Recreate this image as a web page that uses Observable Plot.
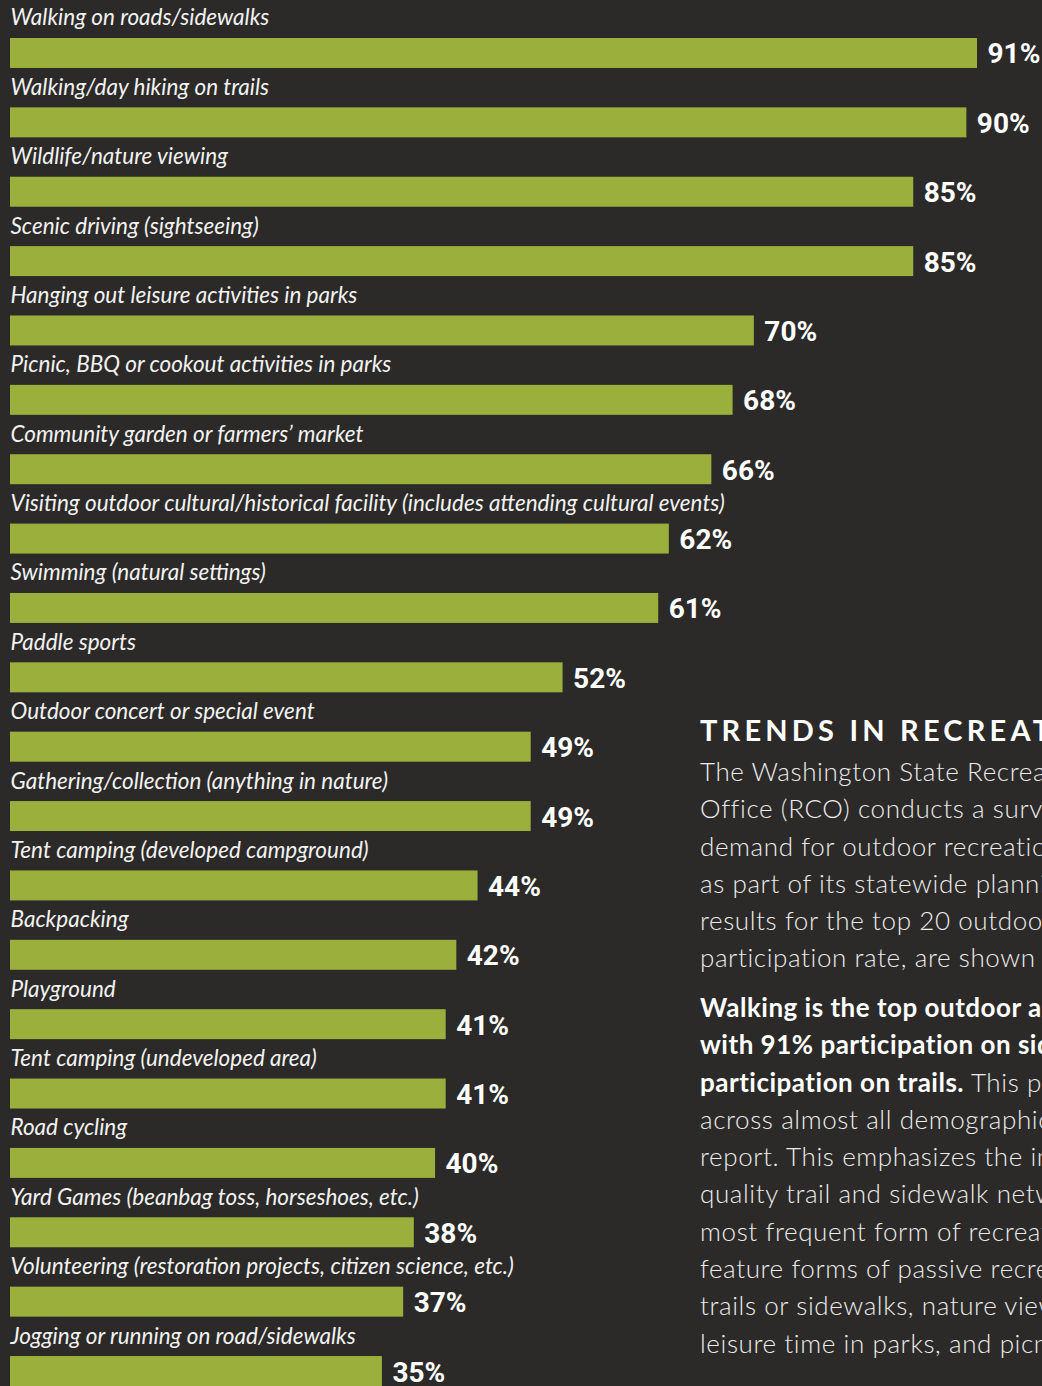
<!DOCTYPE html>
<html>
<head>
<meta charset="utf-8">
<script src="https://cdn.jsdelivr.net/npm/d3@7"></script>
<script src="https://cdn.jsdelivr.net/npm/@observablehq/plot@0.6"></script>
<style>
  html, body { margin: 0; padding: 0; background: #2b2a29; overflow: hidden; }
  #wrap { position: relative; width: 1042px; height: 1386px; overflow: hidden; }
  #chart svg { display: block; }
  #side { position: absolute; left: 700px; top: 0; width: 760px; color: #ececec;
          font-family: Lato, "Open Sans", sans-serif; white-space: nowrap; }
  #side h2 { position: absolute; top: 712px; left: 0; margin: 0; font-size: 29px; font-weight: 700;
             letter-spacing: 4.2px; color: #ffffff; }
  #side .p { position: absolute; left: 0; font-size: 26px; font-weight: 300; line-height: 37.3px;
             letter-spacing: 0.6px; }
  #side b { font-weight: 700; color: #ffffff; letter-spacing: 0.5px; }
</style>
</head>
<body>
<div id="wrap">
  <div id="chart"></div>
  <div id="side">
    <h2>TRENDS IN RECREATION</h2>
    <div class="p" id="p1" style="top:753px"></div>
    <div class="p" id="p2" style="top:989px"></div>
  </div>
</div>
<script>
const categories = [
  "Walking on roads/sidewalks",
  "Walking/day hiking on trails",
  "Wildlife/nature viewing",
  "Scenic driving (sightseeing)",
  "Hanging out leisure activities in parks",
  "Picnic, BBQ or cookout activities in parks",
  "Community garden or farmers’ market",
  "Visiting outdoor cultural/historical facility (includes attending cultural events)",
  "Swimming (natural settings)",
  "Paddle sports",
  "Outdoor concert or special event",
  "Gathering/collection (anything in nature)",
  "Tent camping (developed campground)",
  "Backpacking",
  "Playground",
  "Tent camping (undeveloped area)",
  "Road cycling",
  "Yard Games (beanbag toss, horseshoes, etc.)",
  "Volunteering (restoration projects, citizen science, etc.)",
  "Jogging or running on road/sidewalks"
];
const values = [91, 90, 85, 85, 70, 68, 66, 62, 61, 52, 49, 49, 44, 42, 41, 41, 40, 38, 37, 35];

const para1 = [
  "The Washington State Recreation and Conservation",
  "Office (RCO) conducts a survey to measure the",
  "demand for outdoor recreation in Washington",
  "as part of its statewide planning efforts. The",
  "results for the top 20 outdoor activities, by",
  "participation rate, are shown at left."
];
const para2 = [
  "<b>Walking is the top outdoor activity</b>",
  "<b>with 91% participation on sidewalks and 90%</b>",
  "<b>participation on trails.</b> This pattern holds",
  "across almost all demographic groups in the",
  "report. This emphasizes the importance of",
  "quality trail and sidewalk networks as the",
  "most frequent form of recreation. The top",
  "feature forms of passive recreation: walking on",
  "trails or sidewalks, nature viewing, spending",
  "leisure time in parks, and picnicking."
];
document.getElementById("p1").innerHTML = para1.map(l => `<div>${l}</div>`).join("");
document.getElementById("p2").innerHTML = para2.map(l => `<div>${l}</div>`).join("");

const data = categories.map((c, i) => ({category: c, value: values[i]}));

const chart = Plot.plot({
  width: 1042,
  height: 1386,
  marginTop: 38,
  marginBottom: 0,
  marginLeft: 10,
  marginRight: 65,
  style: {background: "transparent", overflow: "visible"},
  x: {domain: [0, 91], axis: null},
  y: {domain: categories, axis: null, paddingInner: 0.568, paddingOuter: 0, round: false},
  marks: [
    Plot.barX(data, {x: "value", y: "category", fill: "#9bb03c"}),
    Plot.text(data, {
      x: 0, y: "category", text: "category", textAnchor: "start", lineAnchor: "bottom",
      dy: -28, fill: "#f2f2f2", fontSize: 22.5, fontStyle: "italic",
      fontFamily: "Lato, 'Open Sans', sans-serif"
    }),
    Plot.text(data, {
      x: "value", y: "category", text: d => `${d.value}%`, textAnchor: "start", lineAnchor: "bottom",
      dx: 10, dy: 10, fill: "#ffffff", fontSize: 28, fontWeight: 700,
      fontFamily: "Roboto, sans-serif"
    })
  ]
});
document.getElementById("chart").appendChild(chart);
</script>
</body>
</html>
